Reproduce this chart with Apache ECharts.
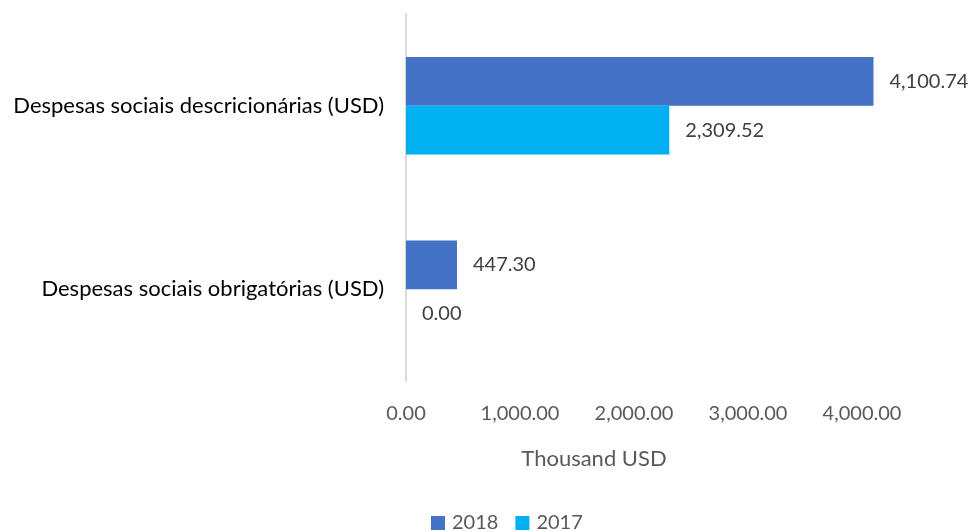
<!DOCTYPE html>
<html>
<head>
<meta charset="utf-8">
<script src="https://cdn.jsdelivr.net/npm/echarts@6/dist/echarts.min.js"></script>
<style>
  html, body { margin: 0; padding: 0; background: #fff; }
  #chart { width: 978px; height: 531px; }
</style>
</head>
<body>
<div id="chart"></div>
<script>
// Categories listed top to bottom
const categories = [
  'Despesas sociais descricionárias (USD)',
  'Despesas sociais obrigatórias (USD)'
];
const seriesNames = ['2018', '2017'];
const values2018 = [4100.74, 447.30];
const values2017 = [2309.52, 0.00];
const xTicks = [0, 1000, 2000, 3000, 4000];

const FONT = 'Lato, "Open Sans", sans-serif';
const fmt = v => Number(v).toLocaleString('en-US', { minimumFractionDigits: 2, maximumFractionDigits: 2 });

const chart = echarts.init(document.getElementById('chart'), null, { renderer: 'canvas' });

const labelCfg = {
  show: true,
  position: 'right',
  distance: 16,
  color: '#404040',
  fontSize: 20,
  fontFamily: FONT,
  formatter: p => fmt(p.value)
};

chart.setOption({
  animation: false,
  textStyle: { fontFamily: FONT },
  grid: { left: 406, right: 59, top: 14, bottom: 150, containLabel: false },
  legend: {
    left: 431,
    top: 513,
    padding: 0,
    itemWidth: 14,
    itemHeight: 14,
    itemGap: 17,
    icon: 'rect',
    textStyle: { color: '#595959', fontSize: 20, fontFamily: FONT, padding: [0, 0, 0, 2] },
    data: seriesNames
  },
  xAxis: {
    type: 'value',
    min: xTicks[0],
    max: 4500,
    interval: xTicks[1] - xTicks[0],
    splitLine: { show: false },
    axisLine: { show: false },
    axisTick: { show: false },
    axisLabel: {
      color: '#595959',
      fontSize: 20,
      fontFamily: FONT,
      margin: 23,
      showMaxLabel: false,
      formatter: v => (xTicks.indexOf(v) >= 0 ? fmt(v) : '')
    }
  },
  yAxis: {
    type: 'category',
    inverse: true,
    data: categories,
    axisLine: { show: true, lineStyle: { color: '#d9d9d9', width: 2 } },
    axisTick: { show: false },
    axisLabel: { color: '#000000', fontSize: 22, fontFamily: FONT, margin: 22 }
  },
  graphic: [{
    type: 'text',
    x: 594,
    y: 459,
    style: {
      text: 'Thousand USD',
      fill: '#595959',
      font: '22px ' + FONT,
      align: 'center',
      verticalAlign: 'middle'
    }
  }],
  series: [
    {
      name: seriesNames[0],
      type: 'bar',
      data: values2018,
      itemStyle: { color: '#4472C4' },
      barGap: '0%',
      barCategoryGap: '47%',
      label: labelCfg
    },
    {
      name: seriesNames[1],
      type: 'bar',
      data: values2017,
      itemStyle: { color: '#00B0F0' },
      barGap: '0%',
      barCategoryGap: '47%',
      label: labelCfg
    }
  ]
});
</script>
</body>
</html>
